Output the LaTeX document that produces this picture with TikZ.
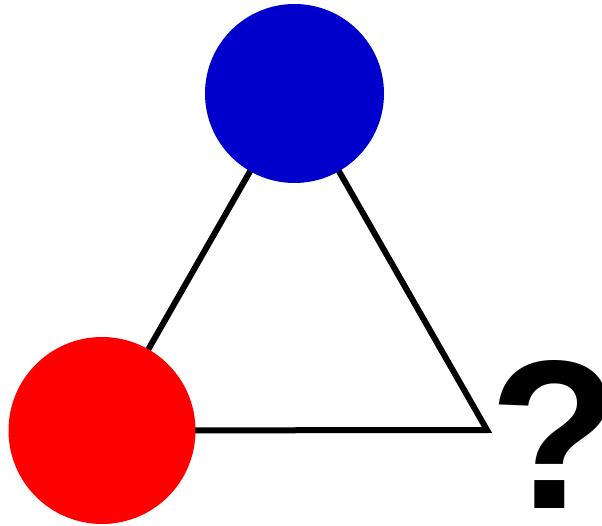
\documentclass[tikz,border=0pt]{standalone}
\usepackage{fontspec}
\setmainfont{Liberation Sans}
\usepackage{xcolor}
\usetikzlibrary{backgrounds}
\definecolor{dotblue}{RGB}{0,0,204}
\definecolor{dotred}{RGB}{255,0,0}
\tikzset{dot/.style={circle,inner sep=0pt,outer sep=0pt},
edge/.style={line width=6pt,black}}

\begin{document}
\begin{tikzpicture}[x=1pt,y=-1pt]
\useasboundingbox(0,0)rectangle(602,526);
\coordinate(corner)at(487,430);
\node[dot,fill=dotblue,minimum size=179pt](blue)at(294.5,93.5){};
\node[dot,fill=dotred,minimum size=187pt](red)at(102,430.5){};
\begin{scope}[on background layer]
\draw[edge](red.center)--(corner)--(blue.center)--cycle;
\end{scope}
\node[anchor=base west,inner sep=0pt,font=\fontsize{212}{212}\selectfont\bfseries](ask)at(489,508){?};
\end{tikzpicture}
\end{document}
